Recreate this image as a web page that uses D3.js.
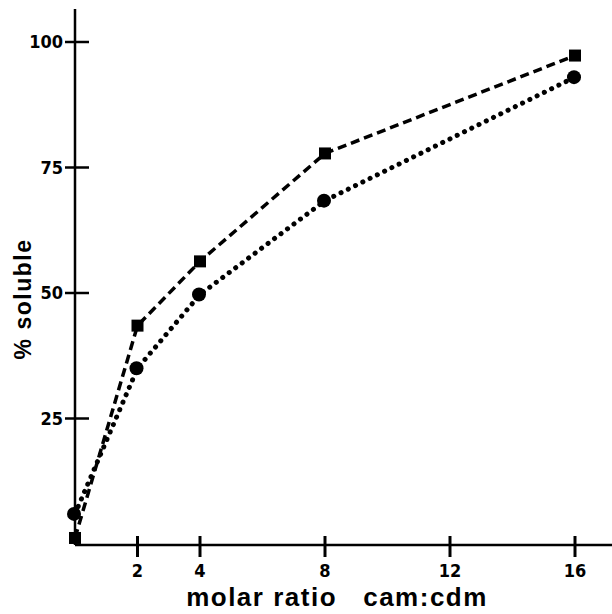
<!DOCTYPE html>
<html>
<head>
<meta charset="utf-8">
<script src="https://cdn.jsdelivr.net/npm/d3@7"></script>
<style>
body { margin: 0; background: #fff; }
text { font-family: "Liberation Sans", Arial, sans-serif; font-weight: bold; fill: #000; }
.tick text { font-family: "Liberation Sans Narrow", "DejaVu Sans Condensed", sans-serif; font-size: 18px; }
</style>
</head>
<body>
<script>
var width = 612, height = 614;

// data
var ratios = [0, 2, 4, 8, 16];
var squareVals = [1.2, 43.5, 56.3, 77.8, 97.3];
var circleVals = [6, 35, 49.7, 68.4, 93];
var xTicks = [2, 4, 8, 12, 16];
var yTicks = [25, 50, 75, 100];

var svg = d3.select("body").append("svg")
  .attr("width", width)
  .attr("height", height);

var x = d3.scaleLinear().domain([0, 16]).range([75, 575]);
var y = d3.scaleLinear().domain([0, 100]).range([544, 42]);

// axes
svg.append("line")
  .attr("x1", x(0)).attr("x2", x(0))
  .attr("y1", 9).attr("y2", y(0) + 1)
  .attr("stroke", "#000").attr("stroke-width", 2.5);
svg.append("line")
  .attr("x1", x(0)).attr("x2", 612)
  .attr("y1", y(0) + 1).attr("y2", y(0) + 1)
  .attr("stroke", "#000").attr("stroke-width", 2.5);

var yt = svg.selectAll(".ytick").data(yTicks).enter().append("g")
  .attr("class", "tick")
  .attr("transform", function(d) { return "translate(0," + y(d) + ")"; });
yt.append("line")
  .attr("x1", x(0) - 10).attr("x2", x(0) + 14)
  .attr("stroke", "#000").attr("stroke-width", 2.5);
yt.append("text")
  .attr("x", x(0) - 12).attr("dy", "0.35em")
  .attr("text-anchor", "end")
  .text(function(d) { return d; });

var xt = svg.selectAll(".xtick").data(xTicks).enter().append("g")
  .attr("class", "tick")
  .attr("transform", function(d) { return "translate(" + x(d) + ",0)"; });
xt.append("line")
  .attr("y1", y(0) - 8).attr("y2", y(0) + 13)
  .attr("stroke", "#000").attr("stroke-width", 3);
xt.append("text")
  .attr("y", 577)
  .attr("text-anchor", "middle")
  .text(function(d) { return d; });

// axis titles
svg.append("text")
  .attr("x", 337).attr("y", 606)
  .attr("text-anchor", "middle")
  .style("font-size", "26px")
  .style("letter-spacing", "1.5px")
  .attr("xml:space", "preserve")
  .text("molar ratio   cam:cdm");

svg.append("text")
  .attr("transform", "translate(31,299) rotate(-90)")
  .attr("text-anchor", "middle")
  .style("font-size", "23px")
  .style("letter-spacing", "1.5px")
  .text("% soluble");

var line = d3.line()
  .x(function(d) { return x(d[0]); })
  .y(function(d) { return y(d[1]); });

var sq = d3.zip(ratios, squareVals);
var ci = d3.zip(ratios, circleVals);

svg.append("path").datum(sq)
  .attr("d", line)
  .attr("fill", "none").attr("stroke", "#000")
  .attr("stroke-width", 3.5)
  .attr("stroke-dasharray", "9,5");

svg.append("path").datum(ci)
  .attr("d", line)
  .attr("fill", "none").attr("stroke", "#000")
  .attr("stroke-width", 5)
  .attr("stroke-linecap", "round")
  .attr("stroke-dasharray", "0.1,8");

svg.selectAll(".sq").data(sq).enter().append("rect")
  .attr("x", function(d) { return x(d[0]) - 6; })
  .attr("y", function(d) { return y(d[1]) - 6; })
  .attr("width", 12).attr("height", 12)
  .attr("fill", "#000");

svg.selectAll(".ci").data(ci).enter().append("circle")
  .attr("cx", function(d) { return x(d[0]) - 1; })
  .attr("cy", function(d) { return y(d[1]); })
  .attr("r", 7)
  .attr("fill", "#000");
</script>
</body>
</html>
